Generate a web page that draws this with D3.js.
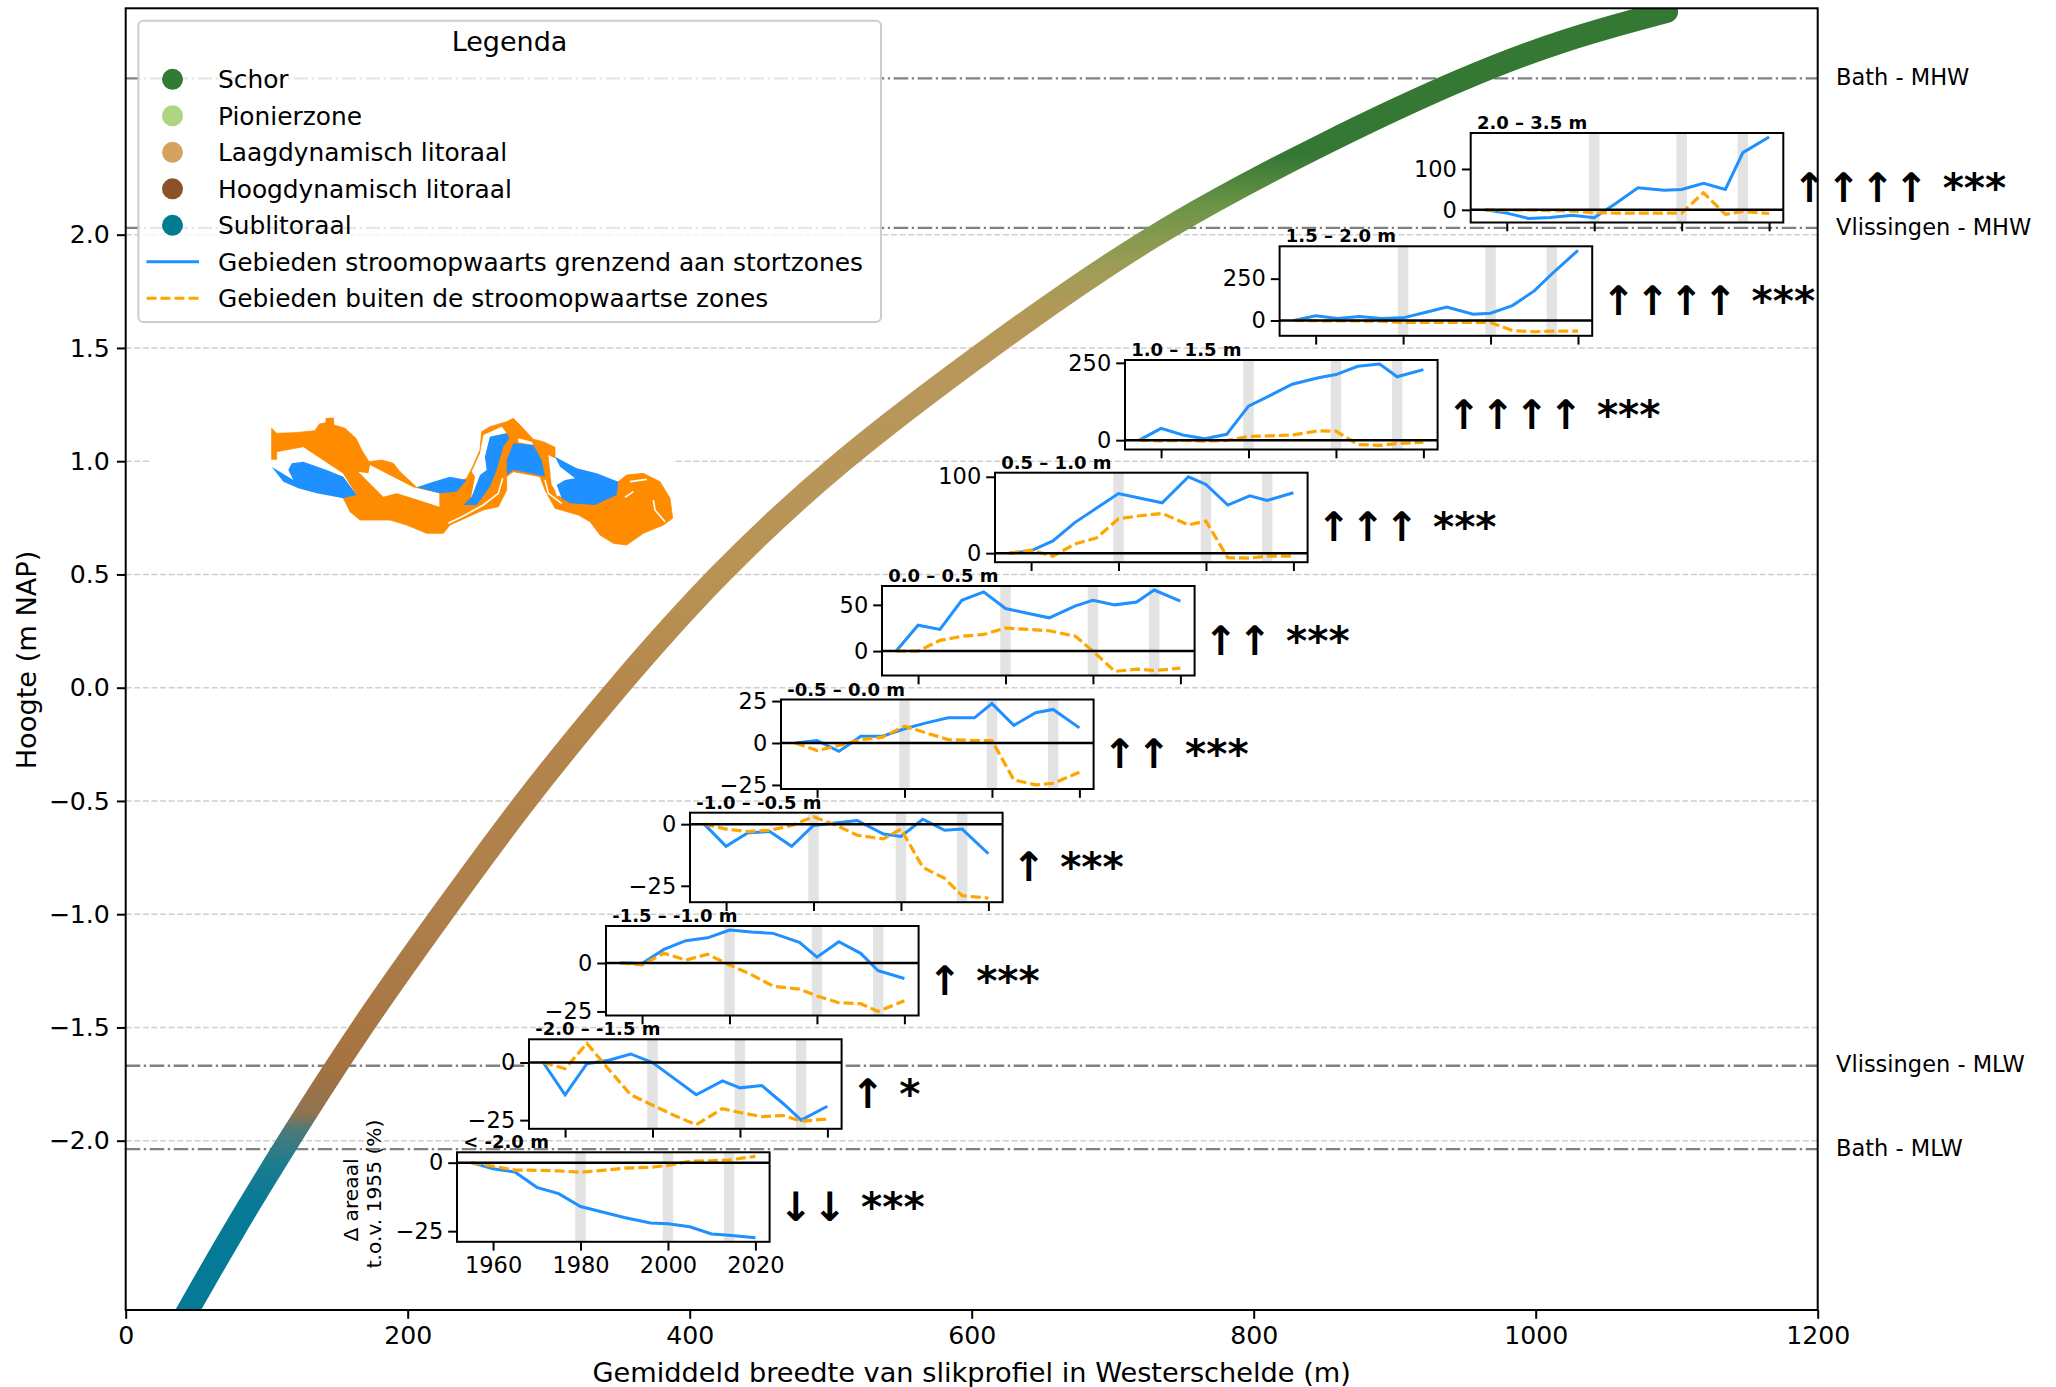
<!DOCTYPE html>
<html><head><meta charset="utf-8">
<script src="https://cdn.jsdelivr.net/npm/d3@7"></script>
<style>html,body{margin:0;padding:0;background:#fff}svg{display:block;font-family:"DejaVu Sans",sans-serif}</style>
</head><body><svg id="c" width="2056" height="1387"></svg>
<script>
// ---------- data ----------
const years = [1955,1960,1965,1970,1975,1980,1985,1990,1996,2000,2005,2010,2014,2020];
const periods = [1980,2000,2014];
const xTickYears = [1960,1980,2000,2020];

const blueA = [0,-8,-21,-19,-13,-19.5,16,54,48,50,65,50,140,178];
const orangeA = [0,-1,-1,-2,-3,-7,-8,-8,-8,-8,42,-11,-4,-9];
const blueB = [0,28,12,24,12,16,48,81,38,44,89,177,278,419];
const orangeB = [0,-1,-3,-3,-4,-12,-12,-12,-12,-12,-60,-67,-63,-63];
const blueC = [0,38,17,5,19,110,145,181,202,212,239,246,205,228];
const orangeC = [0,-2,-1,-3,-1,12,14,17,30,29,-14,-17,-11,-6];
const blueD = [0,3,16,40,59,78,72,66,100,90,63,75,69,79];
const orangeD = [0,4,-4,12,20,45,49,52,37,42,-6,-6.5,-4,-4];
const blueE = [0,28,23.5,55,64,46,41,36,49,55,50,53,66,54];
const orangeE = [0,0,11.6,16,18,25,23.5,22,16,0,-22,-19.5,-21,-18.5];
const blueF = [0,1.5,-5,4,4,8.5,12,15,15,23.5,10.5,18,20,9];
const orangeF = [0,-4.5,-1.5,2,3.5,10,6,2,1.5,1.5,-22,-25,-24,-17.5];
const blueG = [0,-9,-3.5,-3,-9,-0.5,0.5,1.5,-4,-5,2,-2.5,-2,-12];
const orangeG = [0,-2,-3,-2.5,-0.5,3,-0.3,-4.5,-6,-2,-17.5,-22,-29,-30];
const blueH = [0,-0.3,7,11.5,13,17,16,15.3,10.7,3,11,5,-4,-8];
const orangeH = [0,-1,5,1.5,4.5,-1,-6,-12,-13.5,-17,-20.5,-21,-25,-19.5];
const blueI = [0,-14,-0.5,1,3.7,0,-7,-14,-8,-11,-10,-18,-25,-19];
const orangeI = [0,-2.7,8.3,-3,-14,-18.5,-23,-27,-20,-21.7,-23.5,-23,-25.5,-24.5];
const blueJ = [0,-2.2,-3.4,-9,-11.3,-16,-18,-20,-22,-22.3,-23.4,-26,-26.5,-27.4];
const orangeJ = [0,-1.3,-2.7,-2.8,-3,-3.5,-2.8,-2,-1.7,-1,0.5,0.7,1,2.3];

const insetTitles = ["2.0 – 3.5 m","1.5 – 2.0 m","1.0 – 1.5 m","0.5 – 1.0 m","0.0 – 0.5 m","-0.5 – 0.0 m","-1.0 – -0.5 m","-1.5 – -1.0 m","-2.0 – -1.5 m","< -2.0 m"];
const insetBlue = [blueA,blueB,blueC,blueD,blueE,blueF,blueG,blueH,blueI,blueJ];
const insetOrange = [orangeA,orangeB,orangeC,orangeD,orangeE,orangeF,orangeG,orangeH,orangeI,orangeJ];
const insetTicks = [[0,100],[0,250],[0,250],[0,100],[0,50],[-25,0,25],[-25,0],[-25,0],[-25,0],[-25,0]];
const insetMarks = ["↑↑↑↑ ***","↑↑↑↑ ***","↑↑↑↑ ***","↑↑↑ ***","↑↑ ***","↑↑ ***","↑ ***","↑ ***","↑ *","↓↓ ***"];

// profile: mean width (m) against elevation (m NAP)
const profileWidth = [35,75,115.3,166.6,224,282.5,348,419,505,612,725,856,951,1022,1093];
const profileElev  = [-2.85,-2.41,-2.0,-1.5,-1.0,-0.5,0,0.5,1.0,1.5,2.0,2.426,2.70,2.867,2.985];
const zoneElev   = [-2.85,-2.3,-2.1,-1.95,-1.88,-1.67,-1,0,0.5,1,1.5,1.7,1.85,2,2.13,2.35,3];
const zoneColour = ["#057a96","#057a96","#1d7c8f","#4f7a78","#8e7350","#a5733f","#ae7f4a","#b5874c","#b89354","#b8965a","#b8975a","#b09a57","#9e9c56","#84994f","#6b9447","#347833","#347833"];

const refLevels = [2.69,2.03,-1.669,-2.037];
const refNames = ["Bath - MHW","Vlissingen - MHW","Vlissingen - MLW","Bath - MLW"];
const yTickValues = [2,1.5,1,0.5,0,-0.5,-1,-1.5,-2];
const xTickValues = [0,200,400,600,800,1000,1200];

const legendZones = ["Schor","Pionierzone","Laagdynamisch litoraal","Hoogdynamisch litoraal","Sublitoraal"];
const legendColours = ["#2f7a35","#aed581","#d4a35f","#8b5129","#007c91"];
const legendLines = ["Gebieden stroomopwaarts grenzend aan stortzones","Gebieden buiten de stroomopwaartse zones"];

// sketch map of the estuary, in map units
const mapOrange = [[65,55],[80,70],[135,68],[195,62],[208,42],[228,38],[228,25],[250,24],[252,45],[285,55],[318,85],[335,120],[357,155],[395,150],[430,160],[450,185],[500,232],[570,240],[650,205],[668,170],[690,120],[695,65],[720,50],[770,35],[790,25],[810,45],[850,88],[880,95],[915,112],[915,140],[900,200],[920,260],[1105,215],[1130,195],[1180,190],[1230,215],[1260,265],[1268,325],[1240,345],[1180,370],[1130,405],[1090,400],[1050,375],[1020,335],[985,315],[915,295],[885,240],[870,200],[790,185],[770,200],[770,240],[745,290],[700,300],[600,345],[580,370],[530,370],[470,345],[420,330],[330,330],[300,305],[280,265],[320,255],[280,190],[160,110],[80,125],[80,148],[65,148]];
const mapWhite = [
 [[360,165],[490,232],[568,250],[568,290],[480,262],[440,250],[400,260],[325,185],[355,190]],
 [[700,75],[755,50],[770,70],[720,80],[705,140],[715,195],[680,275],[660,280],[675,200],[665,185],[690,130]],
 [[895,135],[915,145],[980,200],[940,215],[925,235],[935,265],[905,225]],
 [[805,85],[845,95],[850,105],[805,97]]];
const mapWhiteLines = [
 [[595,340],[640,318],[700,285],[745,250],[758,205]],
 [[885,210],[895,250],[935,280]],
 [[1140,215],[1190,208]],[[1125,262],[1150,245]],[[1210,270],[1215,300],[1245,335]]];
const mapBlue = [
 [[65,170],[130,210],[115,180],[125,160],[160,155],[230,180],[280,200],[305,235],[320,255],[280,265],[200,250],[145,235],[100,215]],
 [[500,232],[550,215],[600,200],[650,210],[620,245],[570,250]],
 [[720,80],[770,70],[778,85],[760,110],[740,180],[720,230],[680,285],[640,285],[665,260],[690,195],[710,180],[705,140]],
 [[790,100],[850,105],[875,150],[885,200],[840,190],[790,180],[770,195],[770,150]],
 [[915,140],[980,175],[1040,190],[1105,215],[1100,255],[1035,285],[960,280],[935,265],[920,225],[945,210],[975,205],[930,170]]];

// ---------- layout ----------
const insetLeft = [1470.7,1279.6,1125,995,882,781,690,606,529,457];
const insetTop  = [133,246.3,360,472.7,586,699.5,812.7,926,1039.3,1152.3];
const insetW = 312.6, insetH = 89.5;
const F = {tick:25.2, inset:22.5, label:27.2, legend:24.85, title:18, mark:40.5};
const BLUE="#1e90ff", ORANGE="#ffa500";

const svg = d3.select("#c");
const x = d3.scaleLinear().domain([0,1200]).range([125.7,1817.7]);
const y = d3.scaleLinear().domain([2,-2]).range([234.7,1140.7]);
const plotTop = 8.3, plotBottom = 1310;

// gradient along elevation
const defs = svg.append("defs");
const grad = defs.append("linearGradient").attr("id","zone").attr("gradientUnits","userSpaceOnUse")
  .attr("x1",0).attr("x2",0).attr("y1",y(zoneElev[0])).attr("y2",y(zoneElev[zoneElev.length-1]));
zoneElev.forEach((e,i)=>grad.append("stop")
  .attr("offset",(e-zoneElev[0])/(zoneElev[zoneElev.length-1]-zoneElev[0]))
  .attr("stop-color",zoneColour[i]));
defs.append("clipPath").attr("id","plot").append("rect")
  .attr("x",x(0)).attr("y",plotTop).attr("width",x(1200)-x(0)).attr("height",plotBottom-plotTop);

// grid
svg.append("g").selectAll("line").data(yTickValues).join("line")
  .attr("x1",x(0)).attr("x2",x(1200)).attr("y1",d=>y(d)).attr("y2",d=>y(d))
  .attr("stroke","#cfcfcf").attr("stroke-width",1.6).attr("stroke-dasharray","6,2.6");

// reference levels
svg.append("g").selectAll("line").data(refLevels).join("line")
  .attr("x1",x(0)).attr("x2",x(1200)).attr("y1",d=>y(d)).attr("y2",d=>y(d))
  .attr("stroke","#808080").attr("stroke-width",2.3).attr("stroke-dasharray","14.5,3.6,2.3,3.6");
svg.append("g").selectAll("text").data(refLevels).join("text")
  .attr("x",1836).attr("y",d=>y(d)).attr("dy","0.3em").attr("font-size",F.inset).attr("fill","#000")
  .text((d,i)=>refNames[i]);

// profile band
const profile = profileWidth.map((w,i)=>[w,profileElev[i]]);
svg.append("path").datum(profile).attr("clip-path","url(#plot)")
  .attr("d",d3.line().x(d=>x(d[0])).y(d=>y(d[1])).curve(d3.curveBasis))
  .attr("fill","none").attr("stroke","url(#zone)").attr("stroke-width",22.5).attr("stroke-linecap","round");

// map
const mapX = d3.scaleLinear().domain([0,1320]).range([250,690]);
const mapY = d3.scaleLinear().domain([0,420]).range([410,550]);
const mapLine = d3.line().x(d=>mapX(d[0])).y(d=>mapY(d[1]));
const mapPoly = p=>mapLine(p)+"Z";
const mapG = svg.append("g");
mapG.append("rect").attr("x",151).attr("y",mapY(0)).attr("width",522).attr("height",mapY(420)-mapY(0)).attr("fill","#fff");
mapG.append("path").attr("d",mapPoly(mapOrange)).attr("fill","#ff8c00").attr("stroke","#ff8c00").attr("stroke-width",0.8);
mapG.selectAll(".w").data(mapWhite).join("path").attr("class","w").attr("d",mapPoly).attr("fill","#fff");
mapG.selectAll(".wl").data(mapWhiteLines).join("path").attr("class","wl").attr("d",mapLine).attr("fill","none").attr("stroke","#fff").attr("stroke-width",1.6);
mapG.selectAll(".b").data(mapBlue).join("path").attr("class","b").attr("d",mapPoly).attr("fill","#1e90ff");

// main axes
const axX = svg.append("g").attr("transform",`translate(0,${plotBottom})`)
  .call(d3.axisBottom(x).tickValues(xTickValues).tickFormat(d3.format("d")).tickSize(8.8).tickPadding(7));
const axY = svg.append("g").attr("transform",`translate(${x(0)},0)`)
  .call(d3.axisLeft(y).tickValues(yTickValues).tickFormat(d3.format(".1f")).tickSize(8.8).tickPadding(7));
[axX,axY].forEach(a=>{a.select(".domain").remove();
  a.selectAll("text").attr("font-size",F.tick).attr("font-family","DejaVu Sans").attr("fill","#000");
  a.selectAll("line").attr("stroke","#000").attr("stroke-width",2);});
svg.append("rect").attr("x",x(0)).attr("y",plotTop).attr("width",x(1200)-x(0)).attr("height",plotBottom-plotTop)
  .attr("fill","none").attr("stroke","#000").attr("stroke-width",2);
svg.append("text").attr("x",971.7).attr("y",1381.5).attr("text-anchor","middle").attr("font-size",F.label)
  .text("Gemiddeld breedte van slikprofiel in Westerschelde (m)");
svg.append("text").attr("transform","translate(36,660) rotate(-90)").attr("text-anchor","middle").attr("font-size",F.label)
  .text("Hoogte (m NAP)");

// legend
const lg = svg.append("g");
lg.append("rect").attr("x",138.4).attr("y",20.7).attr("width",742.6).attr("height",301.3).attr("rx",5)
  .attr("fill","#fff").attr("fill-opacity",0.8).attr("stroke","#cccccc").attr("stroke-width",2);
lg.append("text").attr("x",509.5).attr("y",51).attr("text-anchor","middle").attr("font-size",27).text("Legenda");
const rowY = i=>79.3+i*36.5;
lg.selectAll("circle").data(legendZones).join("circle")
  .attr("cx",172.5).attr("cy",(d,i)=>rowY(i)).attr("r",10.5).attr("fill",(d,i)=>legendColours[i]);
lg.selectAll(".z").data(legendZones.concat(legendLines)).join("text").attr("class","z")
  .attr("x",218).attr("y",(d,i)=>rowY(i)).attr("dy","0.36em").attr("font-size",F.legend).text(d=>d);
lg.append("line").attr("x1",146.5).attr("x2",199).attr("y1",rowY(5)).attr("y2",rowY(5)).attr("stroke",BLUE).attr("stroke-width",3);
lg.append("line").attr("x1",146.5).attr("x2",199).attr("y1",rowY(6)).attr("y2",rowY(6)).attr("stroke",ORANGE).attr("stroke-width",3).attr("stroke-dasharray","10,4");

// insets
const ix = d3.scaleLinear().domain([1951.75,2023.25]).range([0,insetW]);
insetTitles.forEach((title,k)=>{
  const g = svg.append("g").attr("transform",`translate(${insetLeft[k]},${insetTop[k]})`);
  const ext = d3.extent(insetBlue[k].concat(insetOrange[k]));
  const m = (ext[1]-ext[0])*0.05;
  const iy = d3.scaleLinear().domain([ext[0]-m,ext[1]+m]).range([insetH,0]);
  g.append("rect").attr("width",insetW).attr("height",insetH).attr("fill","#fff");
  g.selectAll(".p").data(periods).join("rect").attr("class","p")
    .attr("x",d=>ix(d-1.2)).attr("width",d=>ix(d+1.2)-ix(d-1.2)).attr("y",0).attr("height",insetH).attr("fill","#e3e3e3");
  const ln = d3.line().x((d,i)=>ix(years[i])).y(d=>iy(d));
  g.append("path").attr("d",ln(insetBlue[k])).attr("fill","none").attr("stroke",BLUE).attr("stroke-width",3);
  g.append("path").attr("d",ln(insetOrange[k])).attr("fill","none").attr("stroke",ORANGE).attr("stroke-width",3.2).attr("stroke-dasharray","10,4");
  g.append("line").attr("x1",0).attr("x2",insetW).attr("y1",iy(0)).attr("y2",iy(0)).attr("stroke","#000").attr("stroke-width",2.5);
  const a1 = g.append("g").attr("transform",`translate(0,${insetH})`)
    .call(d3.axisBottom(ix).tickValues(xTickYears).tickFormat(k===9?d3.format("d"):"").tickSize(8.8).tickPadding(6));
  const a2 = g.append("g").call(d3.axisLeft(iy).tickValues(insetTicks[k]).tickFormat(d3.format("d")).tickSize(8.8).tickPadding(5));
  [a1,a2].forEach(a=>{a.select(".domain").remove();
    a.selectAll("text").attr("font-size",F.inset).attr("font-family","DejaVu Sans").attr("fill","#000");
    a.selectAll("line").attr("stroke","#000").attr("stroke-width",2);});
  g.append("rect").attr("width",insetW).attr("height",insetH).attr("fill","none").attr("stroke","#000").attr("stroke-width",2);
  g.append("text").attr("x",6.2).attr("y",-4).attr("font-size",F.title).attr("font-weight","bold").text(title);
  g.append("text").attr("x",insetW+9.5).attr("y",insetH/2+24).attr("font-size",F.mark).attr("font-weight","bold").attr("fill","#000").text(insetMarks[k]);
});
svg.append("text").attr("transform","translate(358,1200) rotate(-90)").attr("text-anchor","middle").attr("font-size",20.2).text("Δ areaal");
svg.append("text").attr("transform","translate(381,1194) rotate(-90)").attr("text-anchor","middle").attr("font-size",20.2).text("t.o.v. 1955 (%)");
</script></body></html>
